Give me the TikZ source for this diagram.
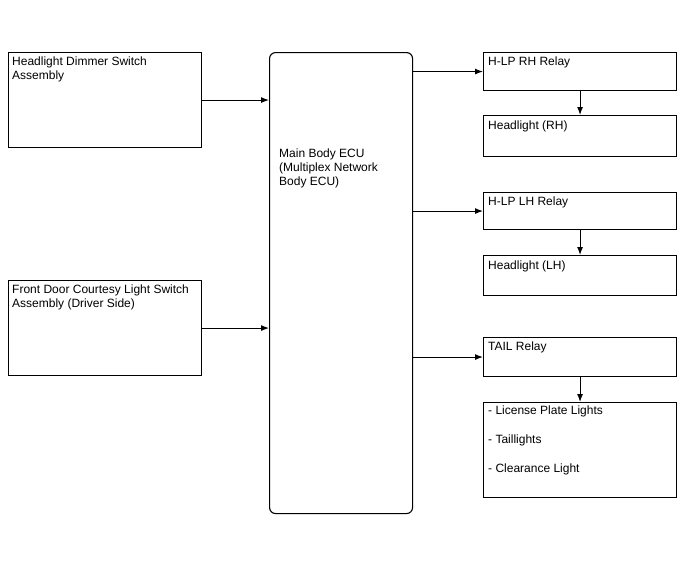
\documentclass[tikz,border=0pt]{standalone}
\usepackage{fontspec}
\setmainfont{Liberation Sans}
\usetikzlibrary{arrows.meta}

\tikzset{
  box/.style={draw, line width=1.1pt, inner sep=0pt, anchor=north west},
  lbl/.style={anchor=north west, inner sep=0pt, align=left, font=\fontsize{12}{14}\selectfont},
  conn/.style={line width=1.1pt, -{Latex[length=8pt,width=6pt]}}
}

\begin{document}
\begin{tikzpicture}[x=1pt,y=-1pt]
\useasboundingbox (0,0) rectangle (688,560);
\node[box, minimum width=193pt, minimum height=95pt] (dimmer) at (8,52) {};
\node[lbl] (dimmertxt) at ([xshift=4pt,yshift=-5pt]dimmer.north west) {Headlight Dimmer Switch\\Assembly};
\node[box, minimum width=193pt, minimum height=95pt] (door) at (8,280) {};
\node[lbl] (doortxt) at ([xshift=4pt,yshift=-5pt]door.north west) {Front Door Courtesy Light Switch\\Assembly (Driver Side)};
\node[box, rounded corners=6pt, minimum width=143pt, minimum height=461pt] (ecu) at (269,52) {};
\node[lbl] (ecutxt) at (279,148.5) {Main Body ECU\\(Multiplex Network\\Body ECU)};
\node[box, minimum width=193pt, minimum height=38pt] (rhrelay) at (483,52) {};
\node[lbl] (rhrelaytxt) at ([xshift=5pt,yshift=-5pt]rhrelay.north west) {H-LP RH Relay};
\node[box, minimum width=193pt, minimum height=41pt] (rhlamp) at (483,115) {};
\node[lbl] (rhlamptxt) at ([xshift=5pt,yshift=-5.5pt]rhlamp.north west) {Headlight (RH)};
\node[box, minimum width=193pt, minimum height=37pt] (lhrelay) at (483,192) {};
\node[lbl] (lhrelaytxt) at ([xshift=5pt,yshift=-5pt]lhrelay.north west) {H-LP LH Relay};
\node[box, minimum width=193pt, minimum height=40pt] (lhlamp) at (483,255) {};
\node[lbl] (lhlamptxt) at ([xshift=5pt,yshift=-5.5pt]lhlamp.north west) {Headlight (LH)};
\node[box, minimum width=193pt, minimum height=39pt] (tail) at (483,337) {};
\node[lbl] (tailtxt) at ([xshift=5pt,yshift=-5pt]tail.north west) {TAIL Relay};
\node[box, minimum width=193pt, minimum height=95pt] (lights) at (483,402) {};
\node[lbl, font=\fontsize{12}{14.6}\selectfont] (lightstxt) at ([xshift=5pt,yshift=-3.5pt]lights.north west) {- License Plate Lights\\[14.6pt]- Taillights\\[14.6pt]- Clearance Light};
\draw[conn] (dimmer.east) -- (dimmer.east -| ecu.west);
\draw[conn] (door.east) -- (door.east -| ecu.west);
\draw[conn] (ecu.east |- rhrelay.west) -- (rhrelay.west);
\draw[conn] (ecu.east |- lhrelay.west) -- (lhrelay.west);
\draw[conn] (ecu.east |- tail.west) -- (tail.west);
\draw[conn] (rhrelay.south) -- (rhlamp.north);
\draw[conn] (lhrelay.south) -- (lhlamp.north);
\draw[conn] (tail.south) -- (lights.north);
\end{tikzpicture}
\end{document}
